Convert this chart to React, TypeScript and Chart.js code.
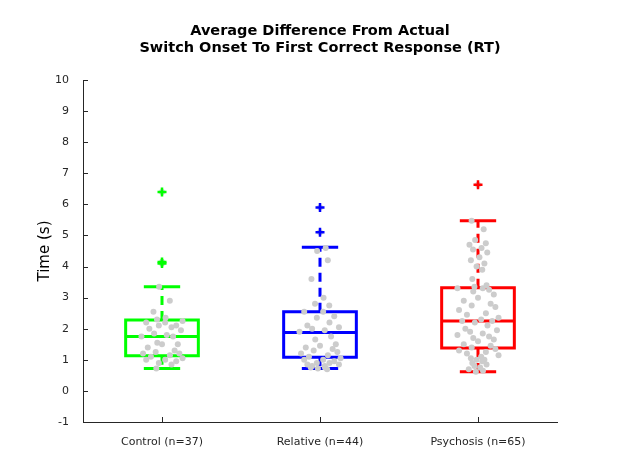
import React, { useEffect, useRef } from "react";
import { Chart, registerables } from "chart.js";
Chart.register(...registerables);

const categories = ["Control (n=37)", "Relative (n=44)", "Psychosis (n=65)"];
const colors = ["#00ff00", "#0000ff", "#ff0000"];
// [whiskerLow, q1, median, q3, whiskerHigh]
const boxStats = [
  [0.72, 1.13, 1.75, 2.28, 3.35],
  [0.72, 1.08, 1.88, 2.55, 4.62],
  [0.62, 1.38, 2.25, 3.32, 5.47],
];
const outliers = [[6.4, 4.15, 4.1], [5.9, 5.1], [6.63]];
const controlPts = [6.4, 4.15, 4.1, 3.35, 2.9, 2.55, 2.35, 2.3, 2.25, 2.2, 2.2, 2.1, 2.1, 2.05, 2.0, 1.95, 1.85, 1.8, 1.75, 1.75, 1.55, 1.5, 1.5, 1.4, 1.3, 1.25, 1.2, 1.2, 1.15, 1.1, 1.05, 1.0, 1.0, 0.95, 0.9, 0.85, 0.72];
const relativePts = [5.9, 5.1, 4.6, 4.5, 4.2, 3.6, 3.0, 2.8, 2.75, 2.55, 2.55, 2.4, 2.35, 2.2, 2.1, 2.05, 2.0, 1.95, 1.9, 1.75, 1.65, 1.5, 1.45, 1.4, 1.35, 1.3, 1.25, 1.2, 1.15, 1.1, 1.05, 1.0, 1.0, 0.95, 0.9, 0.9, 0.85, 0.85, 0.8, 0.8, 0.75, 0.75, 0.72, 0.7];
const psychosisPts = [6.63, 5.47, 5.2, 4.85, 4.75, 4.7, 4.6, 4.55, 4.45, 4.3, 4.2, 4.1, 4.0, 3.9, 3.6, 3.4, 3.35, 3.3, 3.3, 3.25, 3.2, 3.1, 3.0, 2.9, 2.8, 2.75, 2.7, 2.6, 2.5, 2.45, 2.35, 2.3, 2.25, 2.25, 2.2, 2.1, 2.0, 1.95, 1.9, 1.85, 1.8, 1.75, 1.7, 1.65, 1.6, 1.5, 1.45, 1.4, 1.35, 1.3, 1.25, 1.2, 1.15, 1.1, 1.05, 1.0, 1.0, 0.95, 0.9, 0.85, 0.8, 0.75, 0.7, 0.65, 0.62];
const jitter = [0, -0.09, 0.08, -0.04, 0.11, -0.12, 0.05, -0.07, 0.13, 0.02, -0.1, 0.09, -0.02, 0.06, -0.08, 0.12, -0.05, 0.03, -0.13, 0.07, -0.03, 0.1];
const allPts = [controlPts, relativePts, psychosisPts];

const FONT = "'DejaVu Sans', sans-serif";

export default function App() {
  const ref = useRef<HTMLCanvasElement>(null);
  useEffect(() => {
    document.body.style.margin = "0";
    const grey: any[] = [];
    allPts.forEach((arr, g) =>
      arr.forEach((v, i) => {
        const s = boxStats[g];
        const f = v > s[4] + 0.01 ? 0 : v > s[3] || v < s[1] - 0.3 ? 0.45 : 1;
        grey.push({ x: g + 1 + jitter[i % jitter.length] * f, y: v });
      })
    );
    const outDs = outliers.map((o, g) => ({
      type: "scatter" as const,
      data: o.map((v) => ({ x: g + 1, y: v })),
      pointStyle: "cross",
      radius: 4.5,
      borderColor: colors[g],
      borderWidth: 2.5,
      backgroundColor: colors[g],
    }));
    const boxPlugin = {
      id: "box",
      beforeDatasetsDraw(chart: any) {
        const { ctx, scales } = chart;
        const x = scales.x, y = scales.y;
        ctx.save();
        boxStats.forEach((s, g) => {
          const c = g + 1;
          const xl = x.getPixelForValue(c - 0.23), xr = x.getPixelForValue(c + 0.23);
          const cl = x.getPixelForValue(c - 0.115), cr = x.getPixelForValue(c + 0.115);
          const xc = x.getPixelForValue(c);
          const p = s.map((v) => y.getPixelForValue(v));
          ctx.strokeStyle = colors[g];
          ctx.lineWidth = 3;
          ctx.setLineDash([9, 6]);
          ctx.beginPath();
          ctx.moveTo(xc, p[3]); ctx.lineTo(xc, p[4]);
          ctx.moveTo(xc, p[1]); ctx.lineTo(xc, p[0]);
          ctx.stroke();
          ctx.setLineDash([]);
          ctx.beginPath();
          ctx.moveTo(cl, p[4]); ctx.lineTo(cr, p[4]);
          ctx.moveTo(cl, p[0]); ctx.lineTo(cr, p[0]);
          ctx.rect(xl, p[3], xr - xl, p[1] - p[3]);
          ctx.moveTo(xl, p[2]); ctx.lineTo(xr, p[2]);
          ctx.stroke();
        });
        ctx.strokeStyle = "#262626";
        ctx.lineWidth = 1;
        ctx.beginPath();
        y.ticks.forEach((t: any) => {
          const py = Math.round(y.getPixelForValue(t.value)) + 0.5;
          ctx.moveTo(x.left, py); ctx.lineTo(x.left + 5, py);
        });
        [1, 2, 3].forEach((v) => {
          const px = Math.round(x.getPixelForValue(v)) + 0.5;
          ctx.moveTo(px, y.bottom); ctx.lineTo(px, y.bottom - 5);
        });
        ctx.stroke();
        ctx.fillStyle = "#000";
        ctx.font = `bold 14.5px ${FONT}`;
        ctx.textAlign = "center";
        ctx.textBaseline = "middle";
        const mid = (x.left + x.right) / 2;
        ctx.fillText("Average Difference From Actual", mid, 31);
        ctx.fillText("Switch Onset To First Correct Response (RT)", mid, 48);
        ctx.translate(45, (y.top + y.bottom) / 2);
        ctx.rotate(-Math.PI / 2);
        ctx.font = `15px ${FONT}`;
        ctx.fillText("Time (s)", 0, 0);
        ctx.restore();
      },
    };
    const chart = new Chart(ref.current!, {
      type: "scatter",
      data: {
        datasets: [
          ...outDs,
          { type: "scatter", data: grey, radius: 3, borderWidth: 0, backgroundColor: "#cccccc" } as any,
        ],
      },
      options: {
        animation: false,
        responsive: false,
        layout: { padding: { top: 80, right: 61, left: 0, bottom: 0 } },
        plugins: { legend: { display: false }, tooltip: { enabled: false } },
        scales: {
          x: {
            type: "linear", min: 0.5, max: 3.5,
            afterFit: (s: any) => { s.height = 53; },
            afterBuildTicks: (s: any) => { s.ticks = [1, 2, 3].map((v) => ({ value: v })); },
            grid: { display: false },
            border: { display: true, color: "#262626" },
            ticks: { color: "#262626", font: { family: FONT, size: 11 }, padding: 6, callback: (v: any) => categories[v - 1] ?? "" },
          },
          y: {
            min: -1, max: 10,
            afterFit: (s: any) => { s.width = 83; },
            grid: { display: false },
            border: { display: true, color: "#262626" },
            ticks: { stepSize: 1, color: "#262626", font: { family: FONT, size: 11 }, padding: 6 },
          },
        },
      } as any,
      plugins: [boxPlugin],
    });
    return () => chart.destroy();
  }, []);
  return <canvas ref={ref} width={618} height={475} />;
}
